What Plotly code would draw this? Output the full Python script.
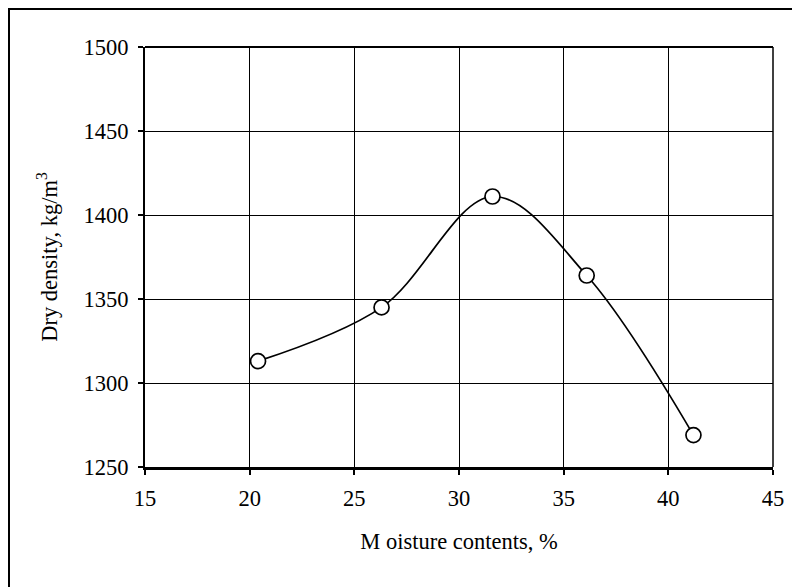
import plotly.graph_objects as go

moisture = [20.4, 26.3, 31.6, 36.1, 41.2]
density = [1313, 1345, 1411, 1364, 1269]
x_ticks = [15, 20, 25, 30, 35, 40, 45]
y_ticks = [1250, 1300, 1350, 1400, 1450, 1500]

# page body has an 8px margin; layout numbers below compensate for it
W, H = 800, 587
ml, mt = 137, 39
pw, ph = 628, 420
mr, mb = W - ml - pw, H - mt - ph

fig = go.Figure()
fig.add_trace(go.Scatter(
    x=moisture, y=density, mode="lines+markers",
    line=dict(color="black", width=1.7, shape="spline", smoothing=1.0),
    marker=dict(symbol="circle", size=15, color="white",
                line=dict(color="black", width=1.7)),
    showlegend=False, cliponaxis=False,
))

FS = 22.5
font = dict(family="Liberation Serif, Times New Roman, serif", color="black")

fig.update_layout(
    width=W, height=H,
    margin=dict(l=ml, r=mr, t=mt, b=mb, autoexpand=False),
    paper_bgcolor="white", plot_bgcolor="white",
    font=dict(size=FS, **font),
    xaxis=dict(
        range=[15, 45], tickvals=x_ticks, ticks="outside", ticklen=5,
        tickcolor="black", tickwidth=1.5, ticklabelstandoff=4,
        showgrid=True, gridcolor="black", gridwidth=1,
        showline=True, linecolor="black", linewidth=3, mirror=False,
        zeroline=False,
        title=dict(text="M oisture contents, %", font=dict(size=FS, **font), standoff=24),
        tickfont=dict(size=FS, **font),
    ),
    yaxis=dict(
        range=[1250, 1500], tickvals=y_ticks, ticks="outside", ticklen=5,
        tickcolor="black", tickwidth=1.5, ticklabelstandoff=5,
        showgrid=True, gridcolor="black", gridwidth=1,
        showline=True, linecolor="black", linewidth=2, mirror=False,
        zeroline=False,
        title=dict(text="Dry density, kg/m<sup>3</sup>", font=dict(size=FS, **font), standoff=20),
        tickfont=dict(size=FS, **font),
    ),
)

# plot-area top and right borders
fig.add_shape(type="line", xref="paper", yref="paper", x0=0, x1=1, y0=1, y1=1,
              line=dict(color="black", width=2))
fig.add_shape(type="line", xref="paper", yref="paper", x0=1, x1=1, y0=0, y1=1,
              line=dict(color="black", width=1.5))

# outer frame (right and bottom edges fall outside the visible page)
fx0, fx1, fy0, fy1 = 1, 830, 1, 640
fig.add_shape(type="rect", xref="paper", yref="paper",
              x0=(fx0 - ml) / pw, x1=(fx1 - ml) / pw,
              y0=(H - mb - fy1) / ph, y1=(H - mb - fy0) / ph,
              line=dict(color="black", width=2), layer="below")

fig.write_html("out.html")
